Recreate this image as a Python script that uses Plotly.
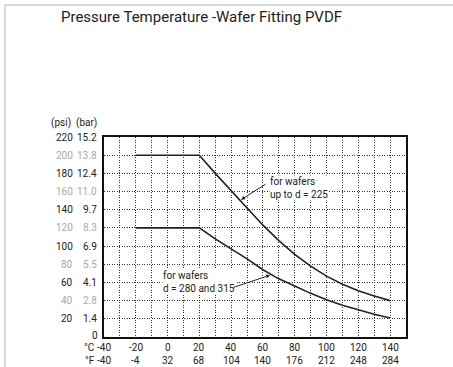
import plotly.graph_objects as go

# ---- data ----
temp_c = [-20, 20, 30, 40, 50, 60, 70, 80, 90, 100, 110, 120, 130, 140]
psi_upto_225 = [200, 200, 180, 161, 142, 123, 106, 91, 78, 67, 58, 51, 45, 40]
psi_280_315 = [120, 120, 108, 97, 86, 74, 64, 56, 48, 41, 35, 30, 25, 21]

psi_ticks = [220, 200, 180, 160, 140, 120, 100, 80, 60, 40, 20]
bar_ticks = ["15.2", "13.8", "12.4", "11.0", "9.7", "8.3", "6.9", "5.5", "4.1", "2.8", "1.4"]
c_ticks = [-40, -20, 0, 20, 40, 60, 80, 100, 120, 140]
f_ticks = ["-40", "-4", "32", "68", "104", "140", "176", "212", "248", "284"]

W, H = 453, 367
L, R, T, B = 104, 406, 137, 337
FONT = "Roboto"
DARK = "#222222"
GRAY = "#a8a8a8"

def px(x):
    return (x - L) / (R - L)

def py(y):
    return (B - y) / (B - T)

fig = go.Figure()
for ys in (psi_upto_225, psi_280_315):
    fig.add_trace(go.Scatter(x=temp_c, y=ys, mode="lines",
                             line=dict(color="#222222", width=1.6),
                             showlegend=False, hoverinfo="skip"))

ann = []
# y labels
ann.append(dict(x=px(73), y=py(123), text="(psi)", xanchor="right"))
ann.append(dict(x=px(99), y=py(123), text="(bar)", xanchor="right"))
for i, (p, b) in enumerate(zip(psi_ticks, bar_ticks)):
    col = DARK if i % 2 == 0 else GRAY
    yy = py(B - p * (B - T) / 220)
    ann.append(dict(x=px(75), y=yy, text=str(p), xanchor="right", font=dict(color=col)))
    ann.append(dict(x=px(99), y=yy, text=b, xanchor="right", font=dict(color=col)))
ann.append(dict(x=px(100), y=py(335), text="0", xanchor="right"))
# x labels
ann.append(dict(x=px(97), y=py(347), text="°C", xanchor="right"))
ann.append(dict(x=px(97), y=py(360), text="°F", xanchor="right"))
for c, f in zip(c_ticks, f_ticks):
    xx = (c + 40) / 190
    ann.append(dict(x=xx, y=py(347), text=str(c), xanchor="center"))
    ann.append(dict(x=xx, y=py(360), text=f, xanchor="center"))
for a in ann:
    a.update(xref="paper", yref="paper", showarrow=False, yanchor="middle")
    f = a.get("font", {})
    a["font"] = dict(family=FONT, size=10, color=f.get("color", DARK))

# title
ann.append(dict(xref="paper", yref="paper", x=px(59), y=py(17), text="Pressure Temperature -Wafer Fitting PVDF",
                xanchor="left", yanchor="middle", showarrow=False,
                font=dict(family=FONT, size=15, color=DARK)))
# curve labels with arrows
ann.append(dict(xref="x", yref="y", x=63.5, y=164, text="for wafers<br>up to d = 225", showarrow=False,
                xanchor="left", yanchor="middle", align="left", bgcolor="white", borderpad=0,
                font=dict(family=FONT, size=10, color=DARK)))
ann.append(dict(xref="x", yref="y", x=-3.5, y=60, text="for wafers<br>d = 280 and 315", showarrow=False,
                xanchor="left", yanchor="middle", align="left", bgcolor="white", borderpad=0,
                font=dict(family=FONT, size=10, color=DARK)))
ann.append(dict(xref="x", yref="y", x=46.2, y=151, ax=62.5, ay=169, axref="x", ayref="y", text="",
                showarrow=True, arrowhead=2, arrowsize=0.8, arrowwidth=1, arrowcolor=DARK, standoff=0))
ann.append(dict(xref="x", yref="y", x=64.5, y=68, ax=40.5, ay=54, axref="x", ayref="y", text="",
                showarrow=True, arrowhead=2, arrowsize=0.8, arrowwidth=1, arrowcolor=DARK, standoff=0))

shapes = [dict(type="rect", xref="paper", yref="paper",
               x0=px(5), x1=px(470), y0=py(5), y1=py(380),
               line=dict(color="#cccccc", width=1.5), layer="below")]

grid = dict(showgrid=True, gridcolor="#333333", gridwidth=1, griddash="1px,1.5px",
            showline=True, linecolor="#111111", linewidth=2, mirror=True, zeroline=False,
            showticklabels=False, ticks="")
fig.update_layout(
    width=W, height=H,
    margin=dict(l=L, r=W - R, t=T, b=H - B, pad=0),
    paper_bgcolor="white", plot_bgcolor="white",
    annotations=ann, shapes=shapes,
    xaxis=dict(range=[-40, 150], tick0=-40, dtick=10, **grid),
    yaxis=dict(range=[0, 220], tick0=0, dtick=20, **grid),
)
fig.write_html("out.html", config={"displayModeBar": False},
               post_script="document.body.style.margin='0';document.body.style.overflow='hidden';")
